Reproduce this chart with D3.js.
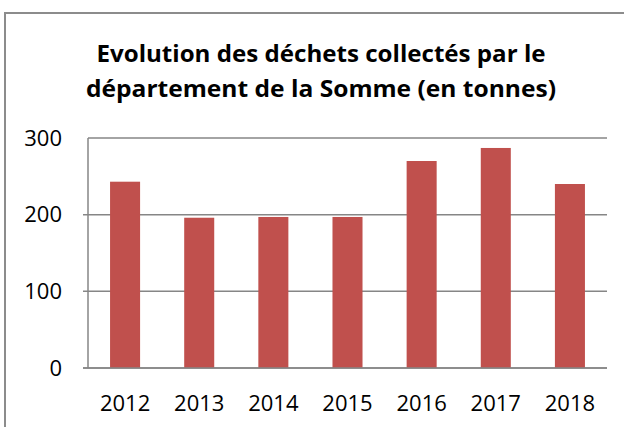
<!DOCTYPE html>
<html>
<head>
<meta charset="utf-8">
<script src="https://cdn.jsdelivr.net/npm/d3@7"></script>
<style>
  html, body { margin: 0; padding: 0; background: #fff; }
  svg { display: block; }
</style>
</head>
<body>
<svg id="chart" width="624" height="427"></svg>
<script>
const categories = ["2012", "2013", "2014", "2015", "2016", "2017", "2018"];
const values = [243, 196, 197, 197, 270, 287, 240];
const yTicks = [0, 100, 200, 300];
const titleLines = ["Evolution des déchets collectés par le", "département de la Somme (en tonnes)"];

const svg = d3.select("#chart");
const W = 624, H = 427;
const plot = { left: 88, right: 607, top: 138, bottom: 368 };

svg.append("rect").attr("width", W).attr("height", H).attr("fill", "#fff");

// chart border (top and left visible)
svg.append("line").attr("x1", 5).attr("x2", W).attr("y1", 13).attr("y2", 13)
  .attr("stroke", "#8c8c8c").attr("stroke-width", 2);
svg.append("line").attr("x1", 5).attr("x2", 5).attr("y1", 12).attr("y2", H)
  .attr("stroke", "#8c8c8c").attr("stroke-width", 2);

// title
const titleWidths = [449, 470];
const titleBaselines = [62, 97];
titleLines.forEach((t, i) => {
  svg.append("text")
    .attr("x", 321).attr("y", titleBaselines[i])
    .attr("text-anchor", "middle")
    .attr("font-family", "'Open Sans', sans-serif")
    .attr("font-weight", "bold")
    .attr("font-size", 24)
    .attr("textLength", titleWidths[i])
    .attr("lengthAdjust", "spacingAndGlyphs")
    .attr("fill", "#000")
    .text(t);
});

const x = d3.scaleBand().domain(categories).range([plot.left, plot.right])
  .paddingInner(0.595).paddingOuter(0.2975);
const y = d3.scaleLinear().domain([0, 300]).range([plot.bottom, plot.top]);

// gridlines
svg.append("g").selectAll("line").data(yTicks).join("line")
  .attr("x1", d => d === 300 ? plot.left : plot.left - 5).attr("x2", plot.right)
  .attr("y1", d => y(d)).attr("y2", d => y(d))
  .attr("stroke", "#868686").attr("stroke-width", 1.5);

// y axis line
svg.append("line").attr("x1", plot.left).attr("x2", plot.left)
  .attr("y1", plot.top).attr("y2", plot.bottom)
  .attr("stroke", "#868686").attr("stroke-width", 1.5);

// bars
svg.append("g").selectAll("rect").data(values).join("rect")
  .attr("x", (d, i) => x(categories[i]))
  .attr("width", x.bandwidth())
  .attr("y", d => y(d))
  .attr("height", d => y(0) - y(d))
  .attr("fill", "#C0504D");

// re-draw baseline over bars
svg.append("line").attr("x1", plot.left - 5).attr("x2", plot.right)
  .attr("y1", y(0)).attr("y2", y(0))
  .attr("stroke", "#868686").attr("stroke-width", 1.5);

// y tick labels
svg.append("g").selectAll("text").data(yTicks).join("text")
  .attr("x", 62).attr("y", d => y(d))
  .attr("dy", "0.35em")
  .attr("text-anchor", "end")
  .attr("font-family", "'Open Sans', sans-serif")
  .attr("font-size", 22)
  .attr("fill", "#000")
  .text(d => d);

// x tick labels
svg.append("g").selectAll("text").data(categories).join("text")
  .attr("x", d => x(d) + x.bandwidth() / 2).attr("y", 410.5)
  .attr("text-anchor", "middle")
  .attr("font-family", "'Open Sans', sans-serif")
  .attr("font-size", 22)
  .attr("fill", "#000")
  .text(d => d);
</script>
</body>
</html>
